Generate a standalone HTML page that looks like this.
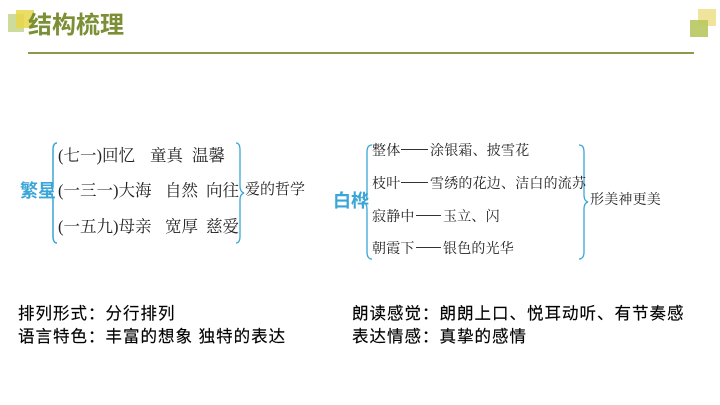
<!DOCTYPE html>
<html><head><meta charset="utf-8"><style>
body{margin:0;width:720px;height:405px;background:#fff;position:relative;overflow:hidden;font-family:"Liberation Sans","Noto Sans CJK SC",sans-serif}
.a{position:absolute;white-space:nowrap;line-height:1}
.k{font-family:"Liberation Serif","Noto Serif CJK SC",serif;color:#222;font-size:16.5px}
.r{font-family:"Liberation Serif","Noto Serif CJK SC",serif;color:#222;font-size:14px;letter-spacing:0.2px}
.b{color:#3aa6d8;font-size:18px;font-weight:bold}
.t{font-size:16.5px;color:#000;letter-spacing:1px;-webkit-text-stroke:0.15px #000}
.d{position:absolute;height:1.3px;background:#333}
</style></head><body>
<div class="a" style="left:8px;top:14px;width:16px;height:18px;background:#cddc9c"></div>
<div class="a" style="left:16px;top:10px;width:18px;height:18px;background:#e8d64a;opacity:.85"></div>
<div class="a" style="left:28px;top:14px;font-size:24px;font-weight:bold;color:#7b8f35">结构梳理</div>
<div class="a" style="left:698px;top:9px;width:18px;height:17px;background:#f0e49a"></div>
<div class="a" style="left:690px;top:20px;width:18px;height:17px;background:#b8c860;opacity:.9"></div>
<div class="a" style="left:28px;top:52px;width:666px;height:2px;background:#8a9a48"></div>

<div class="a b" style="left:20px;top:182px">繁星</div>
<svg class="a" style="left:0;top:0" width="720" height="405">
<path d="M57 143 Q53 143 53 150 L53 186 Q53 192 49 193 Q53 194 53 200 L53 236 Q53 243 57 243" fill="none" stroke="#3aa6d8" stroke-width="1.5"/>
<path d="M236 143 Q240 143 240 150 L240 186 Q240 192 244 193 Q240 194 240 200 L240 236 Q240 243 236 243" fill="none" stroke="#3aa6d8" stroke-width="1.3"/>
<path d="M372 145 Q367 145 367 152 L367 195 Q367 201 363 202 Q367 203 367 209 L367 252 Q367 259 372 259" fill="none" stroke="#3aa6d8" stroke-width="1.3"/>
<path d="M579 145 Q584 145 584 152 L584 195 Q584 201 588 202 Q584 203 584 209 L584 252 Q584 259 579 259" fill="none" stroke="#3aa6d8" stroke-width="1.3"/>
</svg>
<div class="a k" style="left:58px;top:148px">(七一)回忆</div>
<div class="a k" style="left:150px;top:148px">童真</div>
<div class="a k" style="left:192px;top:148px">温馨</div>
<div class="a k" style="left:58px;top:183px">(一三一)大海</div>
<div class="a k" style="left:165px;top:183px">自然</div>
<div class="a k" style="left:206px;top:183px">向往</div>
<div class="a k" style="left:58px;top:219px">(一五九)母亲</div>
<div class="a k" style="left:165px;top:219px">宽厚</div>
<div class="a k" style="left:206px;top:219px">慈爱</div>
<div class="a k" style="left:245px;top:183px;font-size:15px">爱的哲学</div>

<div class="a b" style="left:333px;top:192px">白桦</div>
<div class="a r" style="left:372px;top:145px">整体</div><div class="d" style="left:401px;top:149px;width:27px"></div>
<div class="a r" style="left:430px;top:145px">涂银霜、披雪花</div>
<div class="a r" style="left:372px;top:178px">枝叶</div><div class="d" style="left:401px;top:182px;width:27px"></div>
<div class="a r" style="left:430px;top:178px">雪绣的花边、洁白的流苏</div>
<div class="a r" style="left:372px;top:211px">寂静中</div><div class="d" style="left:416px;top:215px;width:25px"></div>
<div class="a r" style="left:443px;top:211px">玉立、闪</div>
<div class="a r" style="left:372px;top:243px">朝霞下</div><div class="d" style="left:416px;top:247px;width:25px"></div>
<div class="a r" style="left:443px;top:243px">银色的光华</div>
<div class="a r" style="left:590px;top:194px">形美神更美</div>

<div class="a t" style="left:18px;top:306px">排列形式：分行排列</div>
<div class="a t" style="left:18px;top:329px">语言特色：丰富的想象 独特的表达</div>
<div class="a t" style="left:352px;top:306px">朗读感觉：朗朗上口、悦耳动听、有节奏感</div>
<div class="a t" style="left:352px;top:329px">表达情感：真挚的感情</div>
</body></html>
